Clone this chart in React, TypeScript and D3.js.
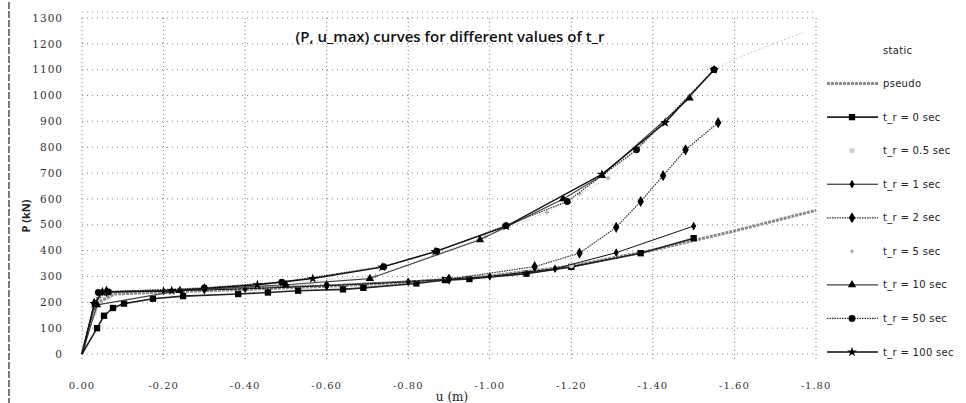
import React from "react";
import * as d3 from "d3";

type Pt = [number, number];

// u (m), P (kN) pairs for each loading case
const staticPts: Pt[] = [[0, 0], [-0.03, 200], [-0.06, 242], [-0.3, 255], [-0.55, 290], [-0.8, 360], [-1.04, 495], [-1.28, 700], [-1.43, 900], [-1.55, 1100], [-1.63, 1160], [-1.77, 1245]];
const pseudoPts: Pt[] = [[0, 0], [-0.02, 120], [-0.04, 200], [-0.08, 232], [-0.2, 240], [-0.4, 250], [-0.6, 262], [-0.8, 278], [-1.0, 302], [-1.2, 340], [-1.4, 402], [-1.6, 476], [-1.8, 556]];
const tr0Pts: Pt[] = [[0, 0], [-0.037, 100], [-0.054, 148], [-0.076, 178], [-0.103, 195], [-0.174, 214], [-0.248, 224], [-0.383, 232], [-0.456, 238], [-0.53, 245], [-0.64, 250], [-0.69, 256], [-0.82, 273], [-0.89, 286], [-0.95, 290], [-1.09, 311], [-1.2, 337], [-1.37, 390], [-1.5, 448]];
const tr05Pts: Pt[] = [[0, 0], [-0.03, 160], [-0.06, 236], [-0.22, 243], [-0.34, 256], [-0.45, 264], [-0.6, 268], [-0.8, 281], [-1.0, 304], [-1.2, 342]];
const tr1Pts: Pt[] = [[0, 0], [-0.03, 190], [-0.05, 240], [-0.2, 243], [-0.4, 252], [-0.6, 264], [-0.8, 279], [-1.0, 300], [-1.16, 330], [-1.31, 392], [-1.5, 495]];
const tr2Pts: Pt[] = [[0, 0], [-0.03, 195], [-0.06, 242], [-0.3, 252], [-0.6, 266], [-0.9, 290], [-1.11, 338], [-1.22, 390], [-1.31, 490], [-1.37, 590], [-1.425, 690], [-1.48, 790], [-1.56, 895]];
const tr5Pts: Pt[] = [[0, 0], [-0.03, 185], [-0.06, 238], [-0.3, 252], [-0.5, 275], [-0.72, 302], [-0.99, 455], [-1.14, 548], [-1.22, 620], [-1.29, 680], [-1.375, 820]];
const tr10Pts: Pt[] = [[0, 0], [-0.037, 190], [-0.24, 245], [-0.5, 268], [-0.706, 292], [-0.976, 442], [-1.18, 600], [-1.275, 690], [-1.49, 990]];
const tr50Pts: Pt[] = [[0, 0], [-0.04, 238], [-0.065, 240], [-0.3, 256], [-0.49, 278], [-0.74, 338], [-0.87, 398], [-1.04, 497], [-1.19, 590], [-1.36, 790], [-1.55, 1100]];
const tr100Pts: Pt[] = [[0, 0], [-0.03, 195], [-0.05, 240], [-0.22, 245], [-0.43, 268], [-0.566, 292], [-0.736, 336], [-0.866, 396], [-1.04, 494], [-1.275, 695], [-1.43, 895], [-1.55, 1100]];

const seriesNames = ["static", "pseudo", "t_r = 0 sec", "t_r = 0.5 sec", "t_r = 1 sec", "t_r = 2 sec", "t_r = 5 sec", "t_r = 10 sec", "t_r = 50 sec", "t_r = 100 sec"];
const yTicks = [0, 100, 200, 300, 400, 500, 600, 700, 800, 900, 1000, 1100, 1200, 1300];
const xTicks = [0, -0.2, -0.4, -0.6, -0.8, -1.0, -1.2, -1.4, -1.6, -1.8];

type Style = {
  stroke: string;
  width: number;
  dash?: string;
  marker?: d3.SymbolType | null;
  size: number;
  fill: string;
  legendLine: boolean;
};

const styles: Style[] = [
  { stroke: "#c8c8c8", width: 1, dash: "2,2", marker: null, size: 0, fill: "none", legendLine: false },
  { stroke: "#8a8a8a", width: 3, dash: "3,1", marker: null, size: 0, fill: "none", legendLine: true },
  { stroke: "#222", width: 1.6, marker: d3.symbolSquare, size: 40, fill: "#000", legendLine: true },
  { stroke: "#bdbdbd", width: 1, dash: "2,2", marker: d3.symbolCircle, size: 22, fill: "#cfcfcf", legendLine: false },
  { stroke: "#111", width: 1, marker: d3.symbolDiamond, size: 22, fill: "#000", legendLine: true },
  { stroke: "#333", width: 1.2, dash: "1.5,1", marker: d3.symbolDiamond, size: 36, fill: "#000", legendLine: true },
  { stroke: "#b8b8b8", width: 1, dash: "1,2", marker: d3.symbolCross, size: 10, fill: "#aaa", legendLine: false },
  { stroke: "#444", width: 1.2, marker: d3.symbolTriangle, size: 30, fill: "#000", legendLine: true },
  { stroke: "#333", width: 1.2, dash: "1.5,1", marker: d3.symbolCircle, size: 36, fill: "#000", legendLine: true },
  { stroke: "#111", width: 1.4, marker: d3.symbolStar, size: 30, fill: "#000", legendLine: true },
];

const allSeries: Pt[][] = [staticPts, pseudoPts, tr0Pts, tr05Pts, tr1Pts, tr2Pts, tr5Pts, tr10Pts, tr50Pts, tr100Pts];

const W = 966;
const H = 403;

export default function App() {
  const x = d3.scaleLinear().domain([0, -1.8]).range([82, 816]);
  const y = d3.scaleLinear().domain([0, 1300]).range([354, 18]);
  const line = d3
    .line<Pt>()
    .x((d) => x(d[0]))
    .y((d) => y(d[1]));

  const tickFont = "'DejaVu Serif', serif";
  const legendY = d3.scaleLinear().domain([0, 9]).range([50, 352]);

  return (
    <svg
      width={W}
      height={H}
      style={{ position: "absolute", left: 0, top: 0, background: "#fff" }}
      xmlns="http://www.w3.org/2000/svg"
    >
      <rect x={0} y={0} width={W} height={H} fill="#fff" />
      {/* outer frame */}
      <line x1={9} x2={9} y1={2} y2={H} stroke="#333" strokeWidth={1.3} strokeDasharray="7,2" />
      <line x1={82} x2={816} y1={12} y2={12} stroke="#999" strokeWidth={1} strokeDasharray="1,4" />

      {/* gridlines */}
      {yTicks.map((t) => (
        <line key={"gy" + t} x1={82} x2={816} y1={y(t)} y2={y(t)} stroke="#888" strokeWidth={1} strokeDasharray="1,4" />
      ))}
      {xTicks.map((t) => (
        <line key={"gx" + t} x1={x(t)} x2={x(t)} y1={y(1300)} y2={360} stroke="#777" strokeWidth={1} strokeDasharray="1,3" />
      ))}

      {/* tick labels */}
      {yTicks.map((t) => (
        <text key={"ty" + t} x={63} y={y(t)} dy="0.35em" textAnchor="end" fontFamily={tickFont} fontSize={10.5} letterSpacing={1} fill="#333">
          {t}
        </text>
      ))}
      {xTicks.map((t) => (
        <text key={"tx" + t} x={x(t)} y={389} textAnchor="middle" fontFamily={tickFont} fontSize={10} letterSpacing={1} fill="#333">
          {d3.format(".2f")(t).replace("−", "-")}
        </text>
      ))}

      {/* axis titles */}
      <text x={452} y={401} textAnchor="middle" fontFamily={tickFont} fontSize={12} fill="#222">
        u (m)
      </text>
      <text
        transform="translate(30,216) rotate(-90)"
        textAnchor="middle"
        fontFamily="'Open Sans', sans-serif"
        fontWeight={700}
        fontSize={11}
        fill="#222"
      >
        P (kN)
      </text>

      {/* title */}
      <text x={450} y={42} textAnchor="middle" fontFamily="'Open Sans', sans-serif" fontWeight={600} fontSize={15} fill="#111">
        (P, u_max) curves for different values of t_r
      </text>

      {/* series */}
      {allSeries.map((pts, i) => {
        const s = styles[i];
        return (
          <g key={"s" + i}>
            <path d={line(pts) || ""} fill="none" stroke={s.stroke} strokeWidth={s.width} strokeDasharray={s.dash} strokeLinejoin="round" />
            {s.marker &&
              pts.slice(1).map((p, j) => (
                <path
                  key={j}
                  transform={`translate(${x(p[0])},${y(p[1])})`}
                  d={d3.symbol().type(s.marker as d3.SymbolType).size(s.size)() || ""}
                  fill={s.fill}
                />
              ))}
          </g>
        );
      })}

      {/* legend */}
      {seriesNames.map((name, i) => {
        const s = styles[i];
        const ly = legendY(i);
        return (
          <g key={"l" + i}>
            {s.legendLine && (
              <line x1={827} x2={878} y1={ly} y2={ly} stroke={s.stroke} strokeWidth={s.width} strokeDasharray={s.dash} />
            )}
            {s.marker && (
              <path transform={`translate(852,${ly})`} d={d3.symbol().type(s.marker).size(s.size)() || ""} fill={s.fill} />
            )}
            <text x={883} y={ly} dy="0.35em" fontFamily="'DejaVu Sans', sans-serif" fontSize={10} letterSpacing={0.3} fill="#222">
              {name}
            </text>
          </g>
        );
      })}
    </svg>
  );
}
